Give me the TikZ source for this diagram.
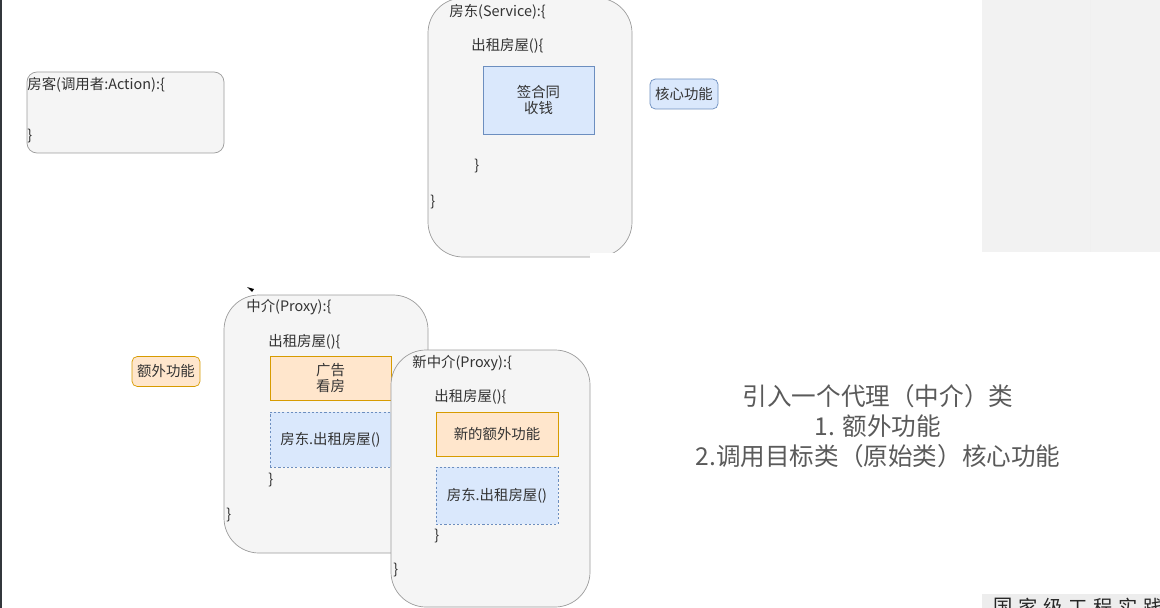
\documentclass[tikz,border=0pt]{standalone}
\usepackage{fontspec}
\setmainfont{Noto Sans CJK SC}
\usetikzlibrary{positioning}
\definecolor{BoxGray}{HTML}{F5F5F5}
\definecolor{EdgeGray}{HTML}{9C9C9C}
\definecolor{CoreBlue}{HTML}{DAE8FC}
\definecolor{CoreEdge}{HTML}{6C8EBF}
\definecolor{ExtraOrange}{HTML}{FFE6CC}
\definecolor{ExtraEdge}{HTML}{D79B00}
\definecolor{InkGray}{HTML}{333333}
\definecolor{NoteGray}{HTML}{5A5A5A}
\definecolor{BarDark}{HTML}{33373C}

\begin{document}
\begin{tikzpicture}[x=0.02cm, y=-0.02cm,
    every node/.style={text=InkGray, font=\fontsize{8.2}{9.2}\selectfont},
    code/.style={anchor=west, inner sep=0pt},
    classbox/.style={draw=EdgeGray, fill=BoxGray, rounded corners=0.7cm},
    corebox/.style={draw=CoreEdge, fill=CoreBlue, align=center, inner sep=0pt},
    extrabox/.style={draw=ExtraEdge, fill=ExtraOrange, align=center, inner sep=0pt},
    callbox/.style={corebox, dash pattern=on 1.2pt off 1.2pt},
    tag/.style={rounded corners=3pt, minimum width=1.36cm, minimum height=0.6cm}]
    \useasboundingbox (0,0) rectangle (1160,608);
    \fill[white] (0,0) rectangle (1160,608);
    \fill[BarDark] (0,0) rectangle (2.5,608);

    % caller
    \draw[classbox, rounded corners=0.2cm] (27,72) rectangle (224,153);
    \node[code] (client) at (27,85) {房客(调用者:Action):\{};
    \node[code] (clientEnd) at (27,136) {\}};

    % target class
    \draw[classbox] (428,-2) rectangle (632,257);
    \node[code] (service) at (449,12) {房东(Service):\{};
    \node[code] (serviceRent) at (471,46) {出租房屋()\{};
    \node[corebox, minimum width=2.22cm, minimum height=1.36cm] (sign) at (538.5,100) {签合同\\收钱};
    \node[code] (serviceRentEnd) at (474,166) {\}};
    \node[code] (serviceEnd) at (430,202) {\}};
    \node[corebox, tag] (core) at (684,94) {核心功能};

    \fill[white] (590,253) rectangle (982,608);
    \fill[black!5] (982,0) rectangle (1160,252);
    \draw[black!6] (1090,0) -- (1090,252);

    % proxy
    \fill[black] (247,287) -- (254,289) -- (252,292) -- cycle;
    \draw[classbox] (224,295) rectangle (428,553);
    \node[code] (proxy) at (246,307) {中介(Proxy):\{};
    \node[code] (proxyRent) at (268,342) {出租房屋()\{};
    \node[extrabox, minimum width=2.42cm, minimum height=0.88cm] (advert) at (330.5,378) {广告\\看房};
    \node[callbox, minimum width=2.42cm, minimum height=1.1cm] (proxyCall) at (330.5,439.5) {房东.出租房屋()};
    \node[code] (proxyRentEnd) at (268,480) {\}};
    \node[code] (proxyEnd) at (226,515) {\}};
    \node[extrabox, tag] (extra) at (166,371.5) {额外功能};

    % new proxy
    \draw[classbox] (391,350) rectangle (590,607);
    \node[code] (newProxy) at (412,363) {新中介(Proxy):\{};
    \node[code] (newProxyRent) at (434,397) {出租房屋()\{};
    \node[extrabox, minimum width=2.44cm, minimum height=0.88cm] (newExtra) at (497,434) {新的额外功能};
    \node[callbox, minimum width=2.44cm, minimum height=1.14cm] (newProxyCall) at (497,495.5) {房东.出租房屋()};
    \node[code] (newProxyRentEnd) at (434,536) {\}};
    \node[code] (newProxyEnd) at (393,570) {\}};

    % summary
    \node[text=NoteGray, font=\fontsize{14}{17}\selectfont, align=center] (note) at (878,426)
      {引入一个代理（中介）类\\1. 额外功能\\2.调用目标类（原始类）核心功能};

    % cut-off caption
    \fill[black!7] (982,594) rectangle (1160,608);
    \begin{scope}
      \clip (982,594) rectangle (1160,608);
      \foreach \c [count=\i] in {国,家,级,工,程,实,践}
        \node[text=black!85, font=\fontsize{11}{11}\selectfont, inner sep=0pt] (stamp\i) at (1003+25*\i-25,607) {\c};
    \end{scope}
  \end{tikzpicture}
\end{document}
